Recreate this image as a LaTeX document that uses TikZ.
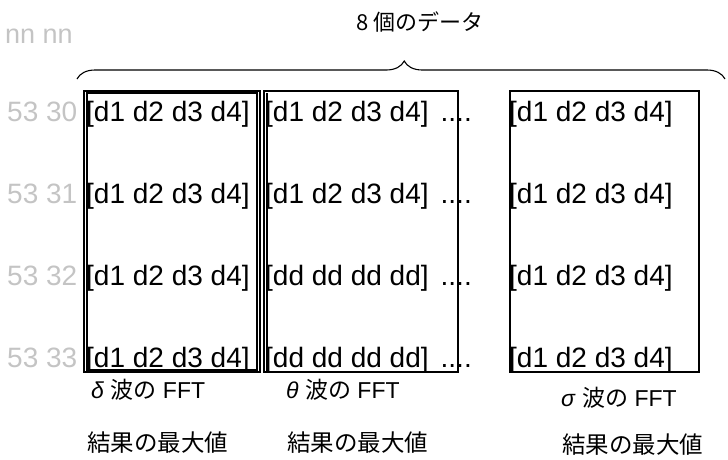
\documentclass[tikz,border=0pt]{standalone}
\usepackage{fontspec}
\setmainfont{Liberation Sans}
\newfontfamily\cjk{Noto Sans CJK JP}
\usetikzlibrary{decorations.pathreplacing}
\definecolor{lgray}{HTML}{C4C4C4}
\tikzset{
  rowlab/.style={anchor=base west, inner sep=0pt, text=lgray, font=\fontsize{28}{32}\selectfont},
  cell/.style={anchor=base west, inner sep=0pt, font=\fontsize{28}{32}\selectfont},
  wave/.style={anchor=west, inner sep=0pt, font=\fontsize{23}{27}\selectfont},
  res/.style={anchor=west, inner sep=0pt, font=\cjk\fontsize{23.5}{28}\selectfont},
  boxline/.style={line width=1.2pt}
}
\begin{document}
\begin{tikzpicture}[x=1pt,y=-1pt]
\useasboundingbox (0,0) rectangle (728,459);
% header
\node[anchor=base west, inner sep=0pt, text=lgray, font=\fontsize{27}{32}\selectfont] (nn) at (5,43) {nn nn};
\node[inner sep=0pt, font=\cjk\fontsize{22}{26}\selectfont] (title) at (420,22) {8 個のデータ};
\coordinate (bl) at (77,79);
\coordinate (br) at (725,79);
\draw[line width=1.1pt, decorate, decoration={brace, amplitude=18pt, aspect=0.505}] (bl) -- (br);
% boxes
\draw[boxline] (84,91) rectangle (260,372);
\draw[boxline] (87,93) rectangle (257,370);
\draw[boxline] (264,91) rectangle (458,372);
\draw[boxline] (267,93) -- (267,372);
\draw[boxline] (510,91) rectangle (699,372);
% rows
\foreach \i/\y/\lab/\mid in {1/121/53 30/{[d1 d2 d3 d4]},2/203/53 31/{[d1 d2 d3 d4]},3/285/53 32/{[dd dd dd dd]},4/367/53 33/{[dd dd dd dd]}}{
  \node[rowlab] (r\i) at (7,\y) {\lab};
  \node[cell] (a\i) at (86,\y) {[d1 d2 d3 d4]};
  \node[cell] (b\i) at (265,\y) {\mid\hspace{12pt}....};
  \node[cell] (c\i) at (509,\y) {[d1 d2 d3 d4]};
}
% bottom labels
\node[wave] (w1) at (91,390) {\textit{δ} {\cjk 波の} FFT};
\node[wave] (w2) at (286,390) {\textit{θ} {\cjk 波の} FFT};
\node[wave] (w3) at (561,398) {\textit{σ} {\cjk 波の} FFT};
\node[res] (m1) at (87,443) {結果の最大値};
\node[res] (m2) at (287,443) {結果の最大値};
\node[res] (m3) at (562,445) {結果の最大値};
\end{tikzpicture}
\end{document}
